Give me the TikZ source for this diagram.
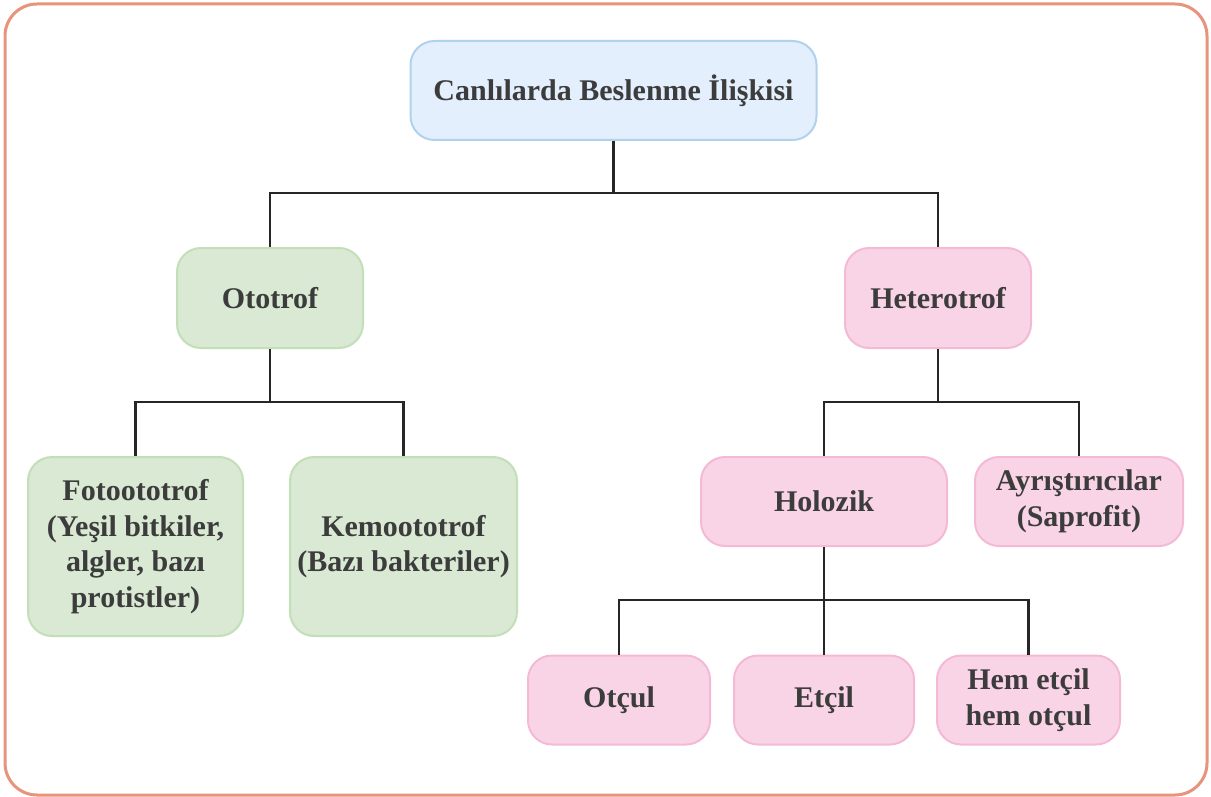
\documentclass[tikz,border=0pt]{standalone}
\usepackage{fontspec}
\setmainfont{Liberation Serif}
\begin{document}
\definecolor{frame}{HTML}{E8937C}
\definecolor{bluefill}{HTML}{E3EFFC}
\definecolor{blueline}{HTML}{B0D2EC}
\definecolor{greenfill}{HTML}{D9E9D3}
\definecolor{greenline}{HTML}{C3DFB8}
\definecolor{pinkfill}{HTML}{F9D4E6}
\definecolor{pinkline}{HTML}{F4B9D5}
\definecolor{ink}{HTML}{3C3C3C}
\begin{tikzpicture}[x=1pt,y=-1pt,
  box/.style={rectangle, rounded corners=24pt, line width=2pt, align=center,
    inner sep=0pt, text=ink, font=\fontsize{30}{35.5}\selectfont\bfseries},
  bluebox/.style={box, draw=blueline, fill=bluefill},
  greenbox/.style={box, draw=greenline, fill=greenfill},
  pinkbox/.style={box, draw=pinkline, fill=pinkfill},
  link/.style={draw=black!85, line width=2.2pt}]
  % page frame
  \useasboundingbox (0,0) rectangle (1211,797);
  \draw[frame, line width=3pt, rounded corners=32pt] (5,4) rectangle (1207,795);

  % boxes
  \node[bluebox, minimum width=406pt, minimum height=99pt] (root) at (613.5,90.5) {Canlılarda Beslenme İlişkisi};
  \node[greenbox, minimum width=186pt, minimum height=100pt] (oto) at (270,298) {Ototrof};
  \node[pinkbox, minimum width=186pt, minimum height=100pt] (het) at (938,298) {Heterotrof};
  \node[greenbox, minimum width=215pt, minimum height=179pt] (foto) at (135.5,546.5) {Fotoototrof\\(Yeşil bitkiler,\\algler, bazı\\protistler)};
  \node[greenbox, minimum width=227pt, minimum height=179pt] (kemo) at (403.5,546.5) {Kemoototrof\\(Bazı bakteriler)};
  \node[pinkbox, minimum width=246pt, minimum height=89pt] (holo) at (824,501.5) {Holozik};
  \node[pinkbox, minimum width=208pt, minimum height=89pt] (ayr) at (1079,501.5) {Ayrıştırıcılar\\(Saprofit)};
  \node[pinkbox, minimum width=182pt, minimum height=89pt] (otcul) at (619,700) {Otçul};
  \node[pinkbox, minimum width=180pt, minimum height=89pt] (etcil) at (824,700) {Etçil};
  \node[pinkbox, minimum width=183pt, minimum height=89pt] (hem) at (1028.5,700) {Hem etçil\\hem otçul};

  % branch points
  \coordinate (b0) at (613.5,193);
  \coordinate (b1) at (270,402);
  \coordinate (b2) at (938,402);
  \coordinate (b3) at (824,600);

  % connectors
  \draw[link] (root) -- (b0);
  \draw[link] (b0) -| (oto);
  \draw[link] (b0) -| (het);
  \draw[link] (oto) -- (b1);
  \draw[link] (b1) -| (foto);
  \draw[link] (b1) -| (kemo);
  \draw[link] (het) -- (b2);
  \draw[link] (b2) -| (holo);
  \draw[link] (b2) -| (ayr);
  \draw[link] (holo) -- (b3);
  \draw[link] (b3) -| (otcul);
  \draw[link] (b3) -- (etcil);
  \draw[link] (b3) -| (hem);
\end{tikzpicture}
\end{document}
